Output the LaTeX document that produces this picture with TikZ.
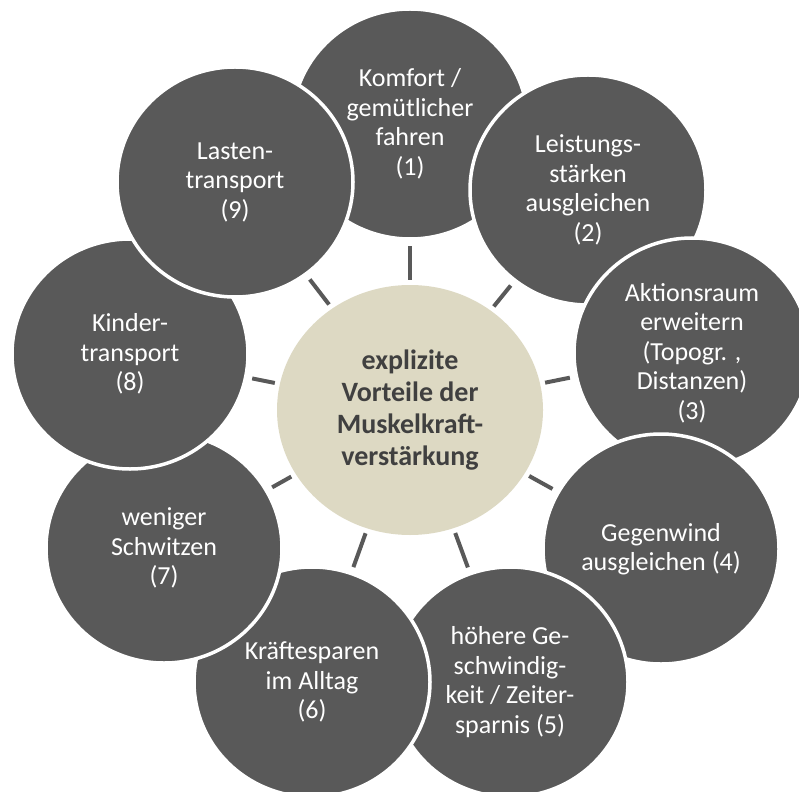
\documentclass[tikz,border=0pt]{standalone}
\usepackage{fontspec}
\setmainfont{Carlito}
\usetikzlibrary{shapes.geometric}
\definecolor{petalgray}{HTML}{595959}
\definecolor{hubbeige}{HTML}{DDD9C3}
\definecolor{hubtext}{HTML}{404040}
\begin{document}
\begin{tikzpicture}[x=1pt,y=-1pt,
  petal/.style={ellipse, fill=petalgray, draw=white, line width=3.5pt,
    minimum width=236pt, minimum height=230pt, inner sep=0pt,
    align=center, text=white, font=\fontsize{26}{29.5}\selectfont},
  hub/.style={ellipse, fill=hubbeige, minimum width=266pt, minimum height=250pt,
    inner sep=0pt, align=center, text=hubtext,
    font=\fontsize{28}{32}\selectfont\bfseries},
  spoke/.style={draw=petalgray, line width=4pt, shorten <=5pt, shorten >=5pt}]
\useasboundingbox (0,0) rectangle (799,791);

% outer ring, each later circle lies over the previous one
\node[petal] (p1) at (410,124) {Komfort /\\gemütlicher\\fahren\\(1)};
\node[petal] (p2) at (588,190) {Leistungs-\\stärken\\ausgleichen\\(2)};
\node[petal] (p3) at (692,353) {Aktionsraum\\erweitern\\(Topogr. ,\\Distanzen)\\(3)};
\node[petal] (p4) at (661,549) {Gegenwind\\ausgleichen (4)};
\node[petal] (p5) at (510,682) {höhere Ge-\\schwindig-\\keit / Zeiter-\\sparnis (5)};
\node[petal] (p6) at (312,682) {Kräftesparen\\im Alltag\\(6)};
\node[petal] (p7) at (164,548) {weniger\\Schwitzen\\(7)};
\node[petal] (p8) at (130,354) {Kinder-\\transport\\(8)};
\node[petal] (p9) at (235,182) {Lasten-\\transport\\(9)};

% hub
\node[hub] (hub) at (410,410) {explizite\\Vorteile der\\Muskelkraft-\\verstärkung};

% spokes
\foreach \i in {1,...,9}{
  \draw[spoke] (hub) -- (p\i);
}
\end{tikzpicture}
\end{document}
